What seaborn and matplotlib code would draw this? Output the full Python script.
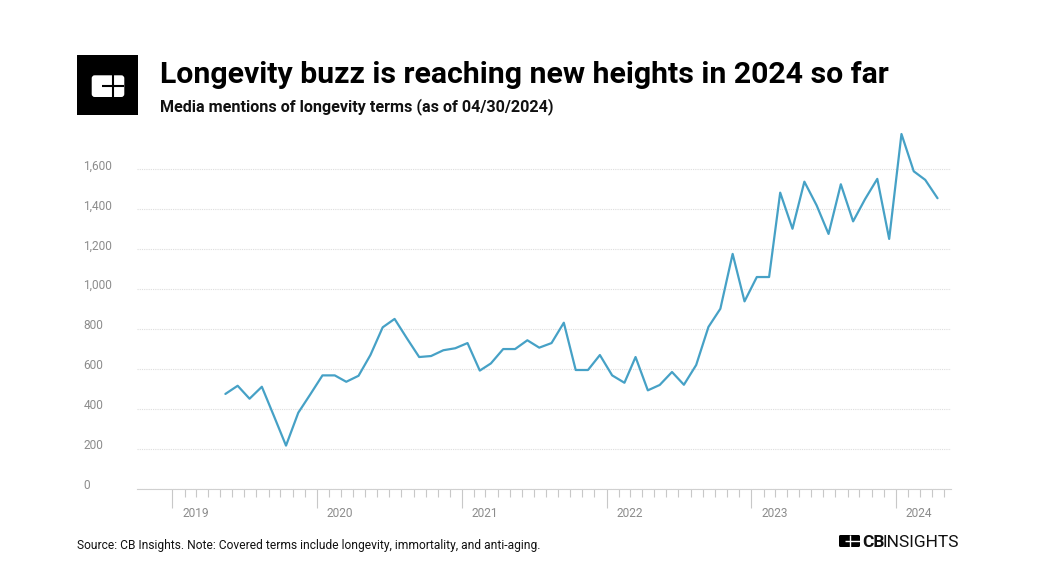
import numpy as np
import pandas as pd
import matplotlib
matplotlib.use("Agg")
import matplotlib.pyplot as plt
import matplotlib.dates as mdates
import matplotlib.transforms as mtransforms
from matplotlib.patches import Rectangle, FancyBboxPatch
import seaborn as sns

# ---------------- data ----------------
start_month = "2019-05"
end_month = "2024-04"
mentions = [
    475, 516, 451, 511, 362, 216, 381, 472, 568, 568,
    536, 566, 670, 809, 851, 754, 660, 665, 694, 704,
    730, 592, 628, 700, 700, 744, 707, 730, 832, 595,
    595, 670, 568, 531, 660, 493, 520, 585, 521, 620,
    811, 902, 1177, 939, 1061, 1061, 1484, 1303, 1539, 1420,
    1277, 1526, 1340, 1451, 1553, 1252, 1778, 1591, 1548, 1456,
]
y_ticks = [0, 200, 400, 600, 800, 1000, 1200, 1400, 1600]
y_tick_labels = ["0", "200", "400", "600", "800", "1,000", "1,200", "1,400", "1,600"]

title = "Longevity buzz is reaching new heights in 2024 so far"
subtitle = "Media mentions of longevity terms (as of 04/30/2024)"
footer = "Source: CB Insights. Note: Covered terms include longevity, immortality, and anti-aging."

months = pd.date_range(start_month, end_month, freq="MS") + pd.Timedelta(days=14)
df = pd.DataFrame({"month": months, "mentions": mentions})

# ---------------- figure ----------------
sns.set_theme(style="white")
plt.rcParams["font.family"] = ["Roboto", "DejaVu Sans"]

W, H = 1040, 585
fig = plt.figure(figsize=(W / 100, H / 100), dpi=100)
fig.patch.set_facecolor("white")

ax_left, ax_right, ax_top, ax_bottom = 137, 951, 129.6, 488.7
ax = fig.add_axes([ax_left / W, (H - ax_bottom) / H, (ax_right - ax_left) / W, (ax_bottom - ax_top) / H])
ax.set_facecolor("white")

sns.lineplot(data=df, x="month", y="mentions", ax=ax, color="#46a1c6", linewidth=1.6)

ax.set_ylim(0, 1800)
ax.set_xlim(pd.Timestamp("2018-10-04"), pd.Timestamp("2024-05-19"))

# y axis
ax.set_yticks(y_ticks)
ax.set_yticklabels(y_tick_labels)
ax.tick_params(axis="y", length=0, pad=38.5, labelsize=8.6, labelcolor="#8c8c8c")
for lab in ax.get_yticklabels():
    lab.set_horizontalalignment("left")
    lab.set_verticalalignment("baseline")
ax.yaxis.grid(True, color="#dddddd", linestyle=(0, (1, 1)), linewidth=0.8)
ax.xaxis.grid(False)

# x axis
ax.xaxis.set_major_locator(mdates.YearLocator())
ax.xaxis.set_major_formatter(mdates.DateFormatter("%Y"))
minor_ticks = mdates.date2num(pd.date_range("2019-01-01", "2024-05-01", freq="MS").to_pydatetime())
ax.xaxis.set_minor_locator(matplotlib.ticker.FixedLocator(minor_ticks))
ax.tick_params(axis="x", which="major", length=14, width=0.8, color="#c8c8c8",
               labelsize=8.6, labelcolor="#8c8c8c", pad=-0.5, direction="out", bottom=True)
ax.tick_params(axis="x", which="minor", length=6, width=0.8, color="#c8c8c8", direction="out", bottom=True)
offset = mtransforms.ScaledTranslation(10 / 100, 0, fig.dpi_scale_trans)
for lab in ax.get_xticklabels():
    lab.set_horizontalalignment("left")
    lab.set_transform(lab.get_transform() + offset)

for s in ["top", "right", "left"]:
    ax.spines[s].set_visible(False)
ax.spines["bottom"].set_color("#d0d0d0")
ax.spines["bottom"].set_linewidth(0.8)
ax.set_xlabel("")
ax.set_ylabel("")

# ---------------- titles ----------------
fig.text(160 / W, (H - 83) / H, title, fontsize=21.75, fontweight="bold", color="#000000",
         ha="left", va="baseline")
fig.text(160 / W, (H - 111) / H, subtitle, fontsize=11.6, fontweight="bold", color="#111111",
         ha="left", va="baseline")
fig.text(77 / W, (H - 545) / H, footer, fontsize=8.65, color="#111111", ha="left", va="center")

# ---------------- top-left logo ----------------
lax = fig.add_axes([77 / W, (H - 115.3) / H, 61.3 / W, 60.6 / H])
lax.set_xlim(0, 61.3)
lax.set_ylim(60.6, 0)
lax.axis("off")
lax.add_patch(Rectangle((0, 0), 61.3, 60.6, color="black"))
lax.add_patch(FancyBboxPatch((14.7 + 2, 20.6 + 2), 32.6 - 4, 21.7 - 4,
                             boxstyle="round,pad=2,rounding_size=3", color="white", lw=0))
lax.plot([35.7, 35.7], [20.6, 42.3], color="black", lw=1.5, solid_capstyle="butt")
lax.plot([25.3, 47.3], [31.3, 31.3], color="black", lw=1.5, solid_capstyle="butt")

# ---------------- bottom-right logo ----------------
bax = fig.add_axes([839 / W, (H - 547) / H, 21 / W, 12 / H])
bax.set_xlim(0, 21)
bax.set_ylim(12, 0)
bax.axis("off")
bax.add_patch(FancyBboxPatch((1, 1), 19, 10, boxstyle="round,pad=1,rounding_size=1.5", color="black", lw=0))
bax.plot([11, 11], [0, 12], color="white", lw=1.0, solid_capstyle="butt")
bax.plot([6, 21], [6, 6], color="white", lw=1.0, solid_capstyle="butt")

t_cb = fig.text(862 / W, (H - 547) / H, "CB", fontsize=12.5, fontweight="bold", color="#111111",
                ha="left", va="baseline")
renderer = fig.canvas.get_renderer()
cb_right = t_cb.get_window_extent(renderer).x1
fig.text((cb_right - 1.5) / W, (H - 547) / H, "INSIGHTS", fontsize=12.5, color="#111111",
         ha="left", va="baseline")

fig.savefig("out.png", dpi=100, facecolor="white")
